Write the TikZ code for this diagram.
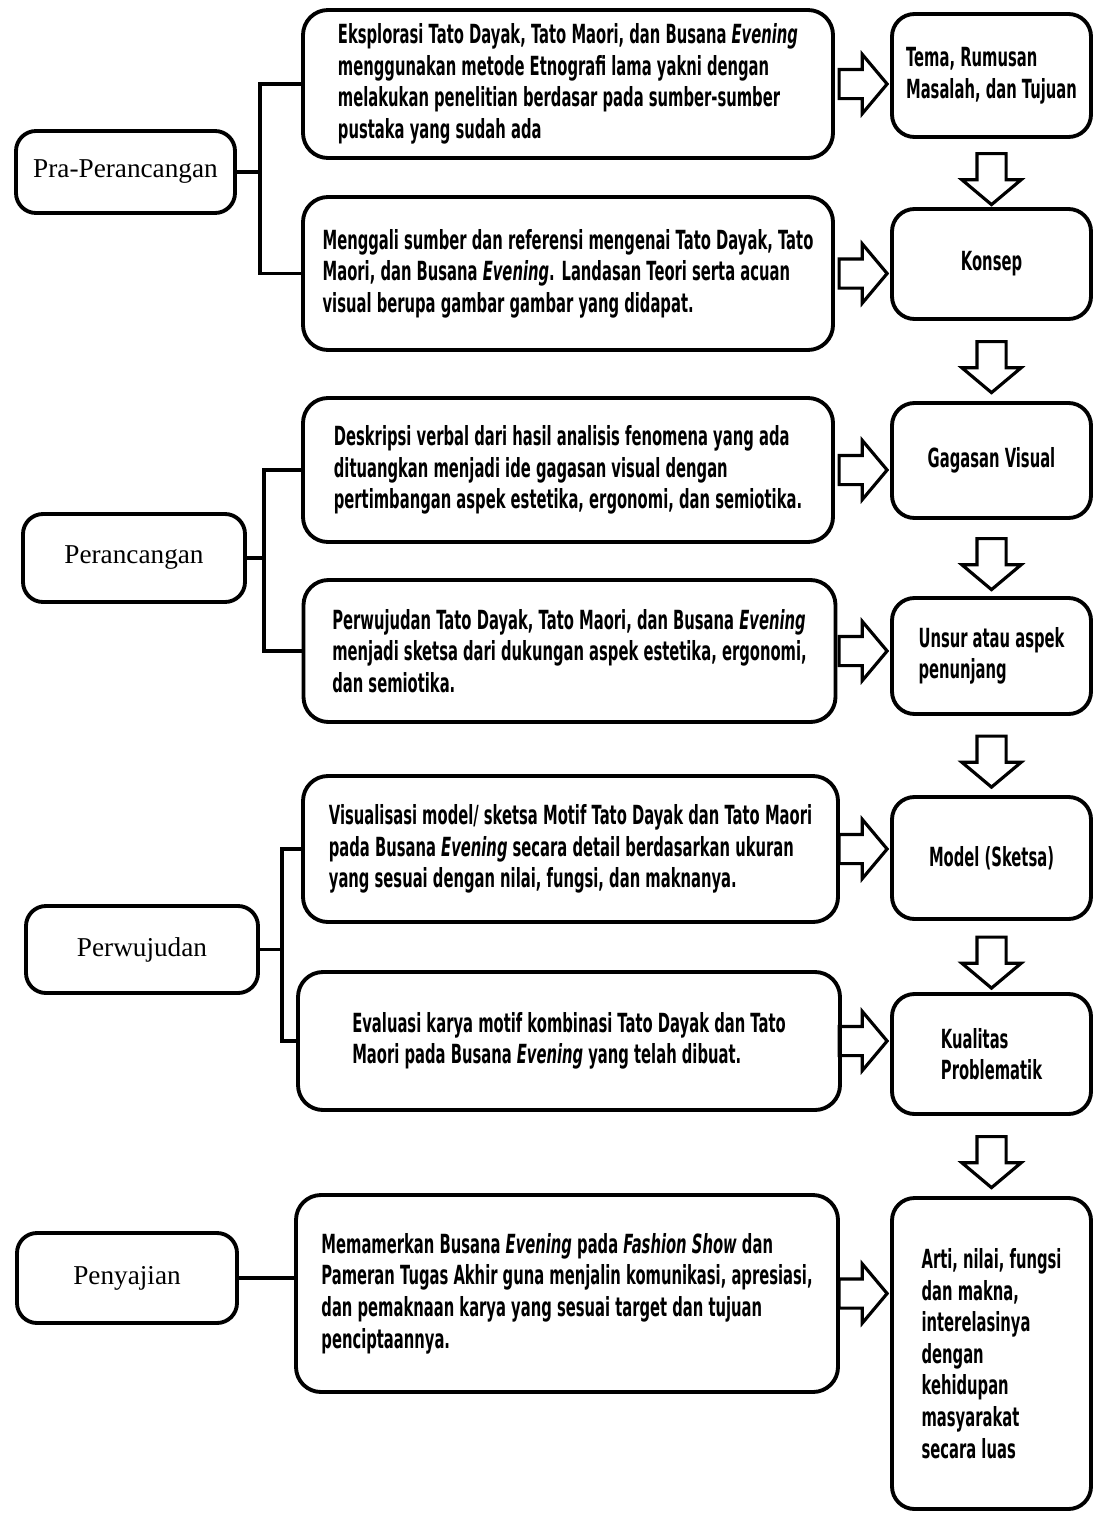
\documentclass[tikz,border=0pt]{standalone}
\usepackage{fontspec}
\usepackage{tikz}
\usetikzlibrary{shapes.arrows, calc}
\newfontfamily\boxfont[FakeStretch=0.56]{DejaVu Sans}
\newfontfamily\stagefont{Liberation Serif}

\begin{document}
\begin{tikzpicture}[line width=2.2pt,
  stage/.style={draw, rounded corners=0.4cm, inner sep=0, font=\stagefont\fontsize{15.5}{18}\selectfont},
  task/.style={draw, rounded corners=0.5cm, inner sep=0, align=left, font=\boxfont\bfseries\fontsize{15}{18}\selectfont},
  result/.style={task, rounded corners=0.45cm, minimum width=3.98cm},
  rarrow/.style={draw, single arrow, inner sep=0.26cm, line width=1.8pt, minimum height=0.96cm, single arrow head extend=0.3cm, single arrow tip angle=100},
  darrow/.style={rarrow, minimum height=1.02cm, shape border rotate=270}]
  \useasboundingbox (0,0) rectangle (21.88,-30.28);

  \node[stage, minimum width=4.38cm, minimum height=1.64cm] (l1) at (2.51,-3.44) {Pra-Perancangan};
  \node[stage, minimum width=4.44cm, minimum height=1.76cm] (l2) at (2.68,-11.16) {Perancangan};
  \node[stage, minimum width=4.64cm, minimum height=1.74cm] (l3) at (2.84,-18.99) {Perwujudan};
  \node[stage, minimum width=4.40cm, minimum height=1.80cm] (l4) at (2.54,-25.56) {Penyajian};

  \node[task, minimum width=10.6cm, minimum height=2.96cm] (m1) at (11.36,-1.68)
    {Eksplorasi Tato Dayak, Tato Maori, dan Busana \textit{Evening}\\ menggunakan metode Etnografi lama yakni dengan\\ melakukan penelitian berdasar pada sumber-sumber\\ pustaka yang sudah ada};
  \node[task, minimum width=10.6cm, minimum height=3.06cm] (m2) at (11.36,-5.47)
    {Menggali sumber dan referensi mengenai Tato Dayak, Tato\\ Maori, dan Busana \textit{Evening}. Landasan Teori serta acuan\\ visual berupa gambar gambar yang didapat.};
  \node[task, minimum width=10.6cm, minimum height=2.88cm] (m3) at (11.36,-9.4)
    {Deskripsi verbal dari hasil analisis fenomena yang ada\\ dituangkan menjadi ide gagasan visual dengan\\ pertimbangan aspek estetika, ergonomi, dan semiotika.};
  \node[task, minimum width=10.64cm, minimum height=2.84cm] (m4) at (11.39,-13.02)
    {Perwujudan Tato Dayak, Tato Maori, dan Busana \textit{Evening}\\ menjadi sketsa dari dukungan aspek estetika, ergonomi,\\ dan semiotika.};
  \node[task, minimum width=10.7cm, minimum height=2.92cm] (m5) at (11.41,-16.98)
    {Visualisasi model/ sketsa Motif Tato Dayak dan Tato Maori\\ pada Busana \textit{Evening} secara detail berdasarkan ukuran\\ yang sesuai dengan nilai, fungsi, dan maknanya.};
  \node[task, minimum width=10.84cm, minimum height=2.76cm] (m6) at (11.38,-20.82)
    {Evaluasi karya motif kombinasi Tato Dayak dan Tato\\ Maori pada Busana \textit{Evening} yang telah dibuat.};
  \node[task, minimum width=10.84cm, minimum height=3.94cm] (m7) at (11.34,-25.87)
    {Memamerkan Busana \textit{Evening} pada \textit{Fashion Show} dan\\ Pameran Tugas Akhir guna menjalin komunikasi, apresiasi,\\ dan pemaknaan karya yang sesuai target dan tujuan\\ penciptaannya.};

  \node[result, minimum height=2.46cm] (r1) at (19.83,-1.51) {Tema, Rumusan\\ Masalah, dan Tujuan};
  \node[result, minimum height=2.2cm] (r2) at (19.83,-5.28) {Konsep};
  \node[result, minimum height=2.3cm] (r3) at (19.83,-9.21) {Gagasan Visual};
  \node[result, minimum height=2.32cm] (r4) at (19.83,-13.12) {Unsur atau aspek\\ penunjang};
  \node[result, minimum height=2.44cm] (r5) at (19.83,-17.16) {Model (Sketsa)};
  \node[result, minimum height=2.4cm] (r6) at (19.83,-21.08) {Kualitas\\ Problematik};
  \node[result, minimum height=6.22cm] (r7) at (19.83,-27.07)
    {Arti, nilai, fungsi\\ dan makna,\\ interelasinya\\ dengan\\ kehidupan\\ masyarakat\\ secara luas};

  \draw (l1.east) -- ++(0.46,0);
  \draw (m1.west) -| ([xshift=0.46cm]l1.east) |- (m2.west);
  \draw (l2.east) -- ++(0.34,0);
  \draw (m3.west) -| ([xshift=0.34cm]l2.east) |- (m4.west);
  \draw (l3.east) -- ++(0.44,0);
  \draw (m5.west) -| ([xshift=0.44cm]l3.east) |- (m6.west);
  \draw (l4.east) -- (l4.east -| m7.west);

  \coordinate (ax) at (17.14,0);
  \node[rarrow] (a1) at (m1.east -| ax) {};
  \node[rarrow] (a2) at (m2.east -| ax) {};
  \node[rarrow] (a3) at (m3.east -| ax) {};
  \node[rarrow] (a4) at (m4.east -| ax) {};
  \node[rarrow] (a5) at (m5.east -| ax) {};
  \node[rarrow] (a6) at (m6.east -| ax) {};
  \node[rarrow] (a7) at (m7.east -| ax) {};

  \node[darrow] (d1) at ($(r1.south)!0.5!(r2.north)$) {};
  \node[darrow] (d2) at ($(r2.south)!0.5!(r3.north)$) {};
  \node[darrow] (d3) at ($(r3.south)!0.5!(r4.north)$) {};
  \node[darrow] (d4) at ($(r4.south)!0.5!(r5.north)$) {};
  \node[darrow] (d5) at ($(r5.south)!0.5!(r6.north)$) {};
  \node[darrow] (d6) at ($(r6.south)!0.5!(r7.north)$) {};
\end{tikzpicture}
\end{document}
